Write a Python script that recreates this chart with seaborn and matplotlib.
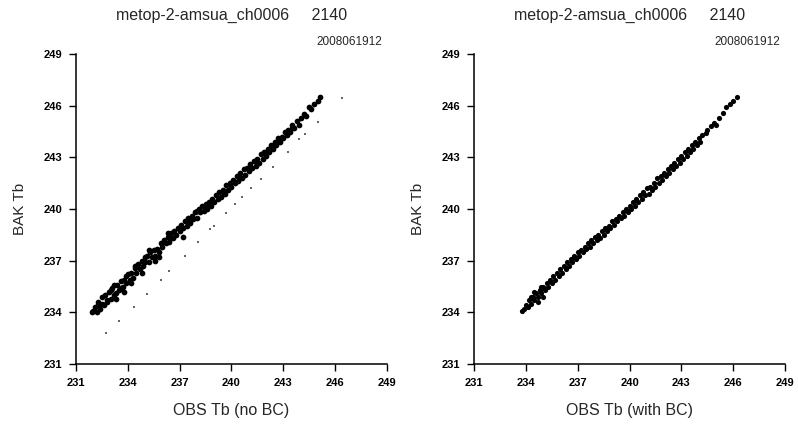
import numpy as np
import pandas as pd
import seaborn as sns
import matplotlib
matplotlib.use("Agg")
import matplotlib.pyplot as plt

## metop-2 amsua ch6 : BAK vs OBS brightness temperature, before / after bias correction
title = "metop-2-amsua_ch0006     2140"
date_str = "2008061912"
ticks = [231, 234, 237, 240, 243, 246, 249]

# left panel (no BC) - main band of points
obs_nobc = [231.9, 232.0, 232.1, 232.2, 232.3, 232.4, 232.5, 232.6, 232.7, 232.8, 232.9, 233.0,
            233.1, 233.2, 233.3, 233.4, 233.5, 233.6, 233.7, 233.8, 233.9, 234.0, 234.1, 234.2,
            234.3, 234.4, 234.5, 234.6, 234.7, 234.8, 234.9, 235.0, 235.1, 235.2, 235.3, 235.4,
            235.5, 235.6, 235.7, 235.8, 235.9, 236.0, 236.1, 236.2, 236.3, 236.4, 236.5, 236.6,
            236.7, 236.8, 236.9, 237.0, 237.1, 237.2, 237.3, 237.4, 237.5, 237.6, 237.7, 237.8,
            237.9, 238.0, 238.1, 238.2, 238.3, 238.4, 238.5, 238.6, 238.7, 238.8, 238.9, 239.0,
            239.1, 239.2, 239.3, 239.4, 239.5, 239.6, 239.7, 239.8, 239.9, 240.0, 240.1, 240.2,
            240.3, 240.4, 240.5, 240.6, 240.7, 240.8, 240.9, 241.0, 241.1, 241.2, 241.3, 241.4,
            241.5, 241.6, 241.7, 241.8, 241.9, 242.0, 242.1, 242.2, 242.3, 242.4, 242.5, 242.6,
            242.7, 242.8, 242.9, 243.0, 243.1, 243.2, 243.3, 243.4, 243.5, 243.6, 243.8, 243.9,
            244.0, 244.2, 244.3, 244.5, 244.6, 244.8, 245.0, 245.1,
            232.5, 233.0, 233.3, 233.6, 233.9, 234.2, 234.5, 234.8, 235.2, 235.6,
            236.5, 237.5, 238.5, 239.5, 240.5, 241.5, 242.5, 243.5,
            232.3, 232.8, 233.2, 233.8, 234.4, 235.0, 235.8, 236.3, 237.2, 238.0]
bak_nobc = [234.0, 234.05, 234.3, 234.0, 234.6, 234.2, 234.9, 234.4, 235.0, 234.6, 235.2, 234.8,
            235.4, 235.0, 235.1, 235.6, 235.3, 235.8, 235.5, 235.9, 235.7, 236.2, 235.9, 236.3,
            236.0, 236.6, 236.3, 236.8, 236.5, 237.0, 236.7, 236.9, 237.3, 236.9, 237.5, 237.2,
            237.6, 237.3, 237.7, 237.5, 238.0, 237.8, 238.2, 238.0, 238.4, 238.1, 238.6, 238.3,
            238.7, 238.5, 238.9, 238.7, 239.1, 238.9, 239.3, 239.0, 239.5, 239.2, 239.6, 239.4,
            239.8, 239.5, 240.0, 239.8, 240.2, 239.9, 240.3, 240.0, 240.4, 240.2, 240.6, 240.4,
            240.8, 240.6, 241.0, 240.7, 241.1, 240.9, 241.4, 241.1, 241.5, 241.3, 241.7, 241.5,
            241.9, 241.6, 242.1, 241.8, 242.3, 242.0, 242.4, 242.2, 242.6, 242.4, 242.8, 242.5,
            242.9, 242.7, 243.2, 242.9, 243.3, 243.1, 243.5, 243.3, 243.7, 243.5, 243.9, 243.7,
            244.1, 243.9, 244.2, 244.1, 244.5, 244.3, 244.6, 244.5, 244.9, 244.7, 245.1, 244.9,
            245.3, 245.5, 245.4, 245.9, 245.8, 246.1, 246.3, 246.5,
            234.5, 235.3, 234.8, 235.4, 236.1, 235.7, 236.7, 236.3, 237.6, 237.0,
            238.3, 239.3, 240.1, 241.0, 241.8, 242.7, 243.7, 244.7,
            234.4, 234.7, 235.6, 235.2, 236.7, 237.2, 237.2, 238.6, 238.4, 239.9]

# left panel - scattered points below the band
obs_nobc_out = [232.74, 233.5, 234.36, 235.1, 235.9, 236.4, 237.3, 238.06, 238.76, 238.99,
                239.68, 240.2, 240.6, 241.13, 241.7, 242.4, 243.27, 243.9, 244.25, 245.0, 246.4]
bak_nobc_out = [232.8, 233.5, 234.3, 235.06, 235.9, 236.4, 237.27, 238.08, 238.84, 239.0,
                239.77, 240.3, 240.7, 241.22, 241.74, 242.44, 243.3, 244.06, 244.35, 245.05, 246.45]

# right panel (with BC)
obs_bc = [233.8, 233.9, 234.0, 234.1, 234.2, 234.3, 234.4, 234.5, 234.6, 234.7, 234.8, 234.9,
          235.0, 235.1, 235.2, 235.3, 235.4, 235.5, 235.6, 235.7, 235.8, 235.9, 236.0, 236.1,
          236.2, 236.3, 236.4, 236.5, 236.6, 236.7, 236.8, 236.9, 237.0, 237.1, 237.2, 237.3,
          237.4, 237.5, 237.6, 237.7, 237.8, 237.9, 238.0, 238.1, 238.2, 238.3, 238.4, 238.5,
          238.6, 238.7, 238.8, 238.9, 239.0, 239.1, 239.2, 239.3, 239.4, 239.5, 239.6, 239.7,
          239.8, 239.9, 240.0, 240.1, 240.2, 240.3, 240.4, 240.5, 240.6, 240.7, 240.8, 240.9,
          241.0, 241.1, 241.2, 241.3, 241.4, 241.5, 241.6, 241.7, 241.8, 241.9, 242.0, 242.1,
          242.2, 242.3, 242.4, 242.5, 242.6, 242.7, 242.8, 242.9, 243.0, 243.1, 243.2, 243.3,
          243.4, 243.5, 243.6, 243.7, 243.8, 243.9, 244.0, 244.1, 244.2, 244.4, 244.5, 244.7,
          244.9, 245.0, 245.2, 245.4, 245.6, 245.8, 246.0, 246.2,
          234.3, 234.5, 234.7, 234.9, 235.0]
bak_bc = [234.05, 234.2, 234.4, 234.3, 234.7, 234.5, 234.9, 234.7, 235.1, 234.9, 235.3, 235.1,
          235.5, 235.3, 235.7, 235.5, 235.9, 235.7, 236.1, 235.9, 236.3, 236.1, 236.5, 236.3,
          236.7, 236.5, 236.9, 236.7, 237.1, 236.9, 237.3, 237.1, 237.5, 237.3, 237.6, 237.5,
          237.8, 237.7, 238.0, 237.8, 238.2, 238.0, 238.4, 238.2, 238.5, 238.3, 238.7, 238.5,
          238.9, 238.7, 239.0, 238.9, 239.3, 239.1, 239.4, 239.3, 239.6, 239.5, 239.8, 239.6,
          240.0, 239.8, 240.2, 240.0, 240.4, 240.2, 240.6, 240.4, 240.8, 240.6, 241.0, 240.8,
          241.2, 240.9, 241.3, 241.1, 241.5, 241.3, 241.8, 241.5, 241.9, 241.7, 242.1, 241.9,
          242.3, 242.1, 242.5, 242.3, 242.7, 242.5, 242.9, 242.7, 243.1, 242.9, 243.3, 243.1,
          243.5, 243.3, 243.7, 243.5, 243.9, 243.7, 244.1, 243.9, 244.3, 244.4, 244.6, 244.8,
          245.0, 244.9, 245.3, 245.6, 245.9, 246.1, 246.3, 246.5,
          234.9, 235.2, 234.6, 235.5, 234.9]

sns.set_theme(style="ticks")
plt.rcParams['font.family'] = ['Liberation Sans', 'DejaVu Sans']

fig = plt.figure(figsize=(7.98, 4.25), dpi=100)
ax1 = fig.add_axes([0.0952, 0.1435, 0.3897, 0.7294])
ax2 = fig.add_axes([0.594, 0.1435, 0.3897, 0.7294])

band_nobc = pd.DataFrame({"obs": obs_nobc, "bak": bak_nobc})
out_nobc = pd.DataFrame({"obs": obs_nobc_out, "bak": bak_nobc_out})
band_bc = pd.DataFrame({"obs": obs_bc, "bak": bak_bc})

sns.scatterplot(data=band_nobc, x="obs", y="bak", ax=ax1, color="black", s=17,
                marker="o", linewidth=0)
sns.scatterplot(data=out_nobc, x="obs", y="bak", ax=ax1, color="#666666", s=2.5,
                marker="s", linewidth=0)
sns.scatterplot(data=band_bc, x="obs", y="bak", ax=ax2, color="black", s=14,
                marker="o", linewidth=0)

for ax, xlab in [(ax1, "OBS Tb (no BC)"), (ax2, "OBS Tb (with BC)")]:
    ax.set_xlim(231, 249)
    ax.set_ylim(231, 249)
    ax.set_xticks(ticks)
    ax.set_yticks(ticks)
    ax.tick_params(direction="out", length=5, width=1, pad=5, labelsize=8,
                   colors="black")
    for lab in ax.get_xticklabels() + ax.get_yticklabels():
        lab.set_fontweight("bold")
    sns.despine(ax=ax)
    for sp in ["left", "bottom"]:
        ax.spines[sp].set_color("black")
        ax.spines[sp].set_linewidth(1.1)
    ax.set_xlabel(xlab, fontsize=11.5, labelpad=11)
    ax.set_ylabel("BAK Tb", fontsize=11, labelpad=12)
    ax.text(0.5, 1.126, title, transform=ax.transAxes, ha="center", va="center",
            fontsize=11.5)
    ax.text(0.984, 1.039, date_str, transform=ax.transAxes, ha="right", va="center",
            fontsize=8.5)

fig.savefig("out.png", dpi=100)
